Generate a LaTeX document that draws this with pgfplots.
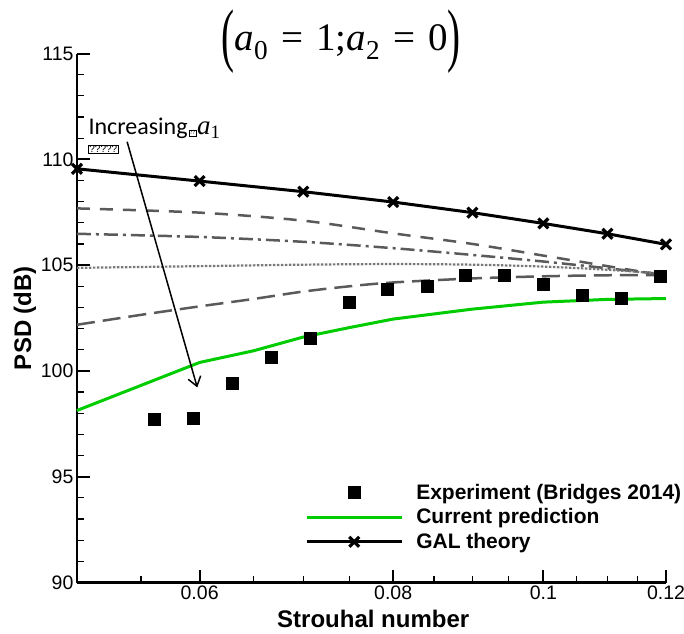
\documentclass[border=0pt]{standalone}
\usepackage{fontspec}
\setmainfont{Liberation Sans}
\newfontfamily\carlito{Carlito}
\newfontfamily\tnr{Liberation Serif}
\usepackage{pgfplots}
\pgfplotsset{compat=1.18}
\usetikzlibrary{arrows.meta}
\definecolor{cpgreen}{RGB}{0,204,0}
\definecolor{dgray}{RGB}{90,90,90}
\definecolor{lgray}{RGB}{120,120,120}
\pgfplotsset{
  mylinelegend/.style={legend image code/.code={\draw[##1,mark repeat=2,mark phase=2] plot coordinates {(0pt,0pt) (47.5pt,0pt) (95pt,0pt)};}},
  mymarklegend/.style={legend image code/.code={\draw[##1] plot coordinates {(47.5pt,0pt)};}},
}
\newcommand\bigparen[1]{\raisebox{-0.215em}{\scalebox{1}[1.8]{#1}}}
\begin{document}
\begin{tikzpicture}
\begin{axis}[
  scale only axis, width=589pt, height=529pt,
  xmode=log, xmin=0.05, xmax=0.12, ymin=90, ymax=115,
  axis x line*=bottom, axis y line*=left,
  axis line style={line width=2.2pt,-},
  xtick={0.06,0.08,0.1,0.12}, xticklabels={0.06,0.08,0.1,0.12},
  minor xtick={0.055,0.065,0.07,0.075,0.085,0.09,0.095,0.105,0.11,0.115},
  ytick={90,95,100,105,110,115}, yticklabels={90,95,100,105,110,115},
  minor ytick={91,92,93,94,96,97,98,99,101,102,103,104,106,107,108,109,111,112,113,114},
  tick align=inside, major tick length=13pt, minor tick length=7pt,
  major tick style={line width=2pt,black}, minor tick style={line width=1.2pt,black},
  ticklabel style={font=\fontsize{19.5}{22}\selectfont},
  xlabel={Strouhal number}, ylabel={PSD (dB)},
  label style={font=\fontsize{24}{28}\selectfont\bfseries},
  xlabel style={at={(axis description cs:0.503,-0.068)}, anchor=center},
  ylabel style={at={(axis description cs:-0.0883,0.5)}, anchor=center},
  legend style={draw=none, fill=none, inner sep=0pt, outer sep=0pt,
    at={(axis description cs:0.3876,0.1881)}, anchor=north west,
    font=\fontsize{21}{24}\selectfont\bfseries, row sep=6pt, nodes={inner sep=1pt},
    /tikz/every odd column/.append style={column sep=12pt}},
  legend cell align=left,
  mylinelegend,
  clip=false,
]
\addplot[only marks, mark=square*, mark size=6pt, black, mymarklegend] coordinates {
(0.0561,97.73)(0.0594,97.77)(0.0630,99.40)(0.0667,100.66)(0.0707,101.53)(0.0749,103.23)
(0.0793,103.86)(0.0841,103.99)(0.0891,104.50)(0.0944,104.53)(0.1000,104.10)(0.1059,103.58)
(0.1122,103.42)(0.1189,104.46)};
\addlegendentry{Experiment (Bridges 2014)}
\addplot[cpgreen, line width=3pt] coordinates {
(0.05,98.13)(0.06,100.4)(0.065,100.95)(0.07,101.6)(0.075,102.05)(0.08,102.45)(0.09,102.92)(0.1,103.25)(0.11,103.38)(0.12,103.42)};
\addlegendentry{Current prediction}
\addplot[black, line width=3pt, mark=x, mark size=7pt, mark options={line width=3.2pt}] coordinates {
(0.05,109.55)(0.06,108.97)(0.07,108.47)(0.08,107.98)(0.09,107.48)(0.1,106.97)(0.11,106.48)(0.12,105.98)};
\addlegendentry{GAL theory}
% family of curves for increasing a1
\addplot[forget plot, dgray, line width=2.5pt, dash pattern=on 13pt off 10pt, smooth] coordinates {
(0.05,107.68)(0.06,107.48)(0.07,107.1)(0.08,106.5)(0.09,106.0)(0.1,105.45)(0.11,104.95)(0.12,104.5)};
\addplot[forget plot, dgray, line width=2.5pt, dash pattern=on 14pt off 5pt on 3pt off 5pt, smooth] coordinates {
(0.05,106.48)(0.06,106.33)(0.07,106.1)(0.08,105.8)(0.09,105.48)(0.1,105.17)(0.11,104.85)(0.12,104.55)};
\addplot[forget plot, lgray, line width=2.2pt, dash pattern=on 2.5pt off 1.5pt, smooth] coordinates {
(0.05,104.87)(0.06,104.95)(0.07,105.02)(0.08,105.05)(0.09,105.02)(0.1,104.93)(0.11,104.78)(0.12,104.58)};
\addplot[forget plot, dgray, line width=2.5pt, dash pattern=on 18pt off 8pt, smooth] coordinates {
(0.05,102.18)(0.055,102.65)(0.06,103.05)(0.065,103.4)(0.07,103.75)(0.075,104.0)(0.08,104.18)(0.09,104.37)(0.1,104.47)(0.11,104.52)(0.12,104.52)};
% annotation
\draw[line width=1.5pt, -{Straight Barb[length=9pt,width=13pt,line width=1.5pt]}] (axis cs:0.05387,110.83) -- (axis cs:0.05979,99.22);
\node[anchor=base west, inner sep=0, font=\carlito\fontsize{24}{26}\selectfont] at (axis cs:0.05085,111.15)
  {Increasing\kern1pt{\setlength\fboxsep{0.6pt}\setlength\fboxrule{0.6pt}\fbox{\fontsize{6}{6}\selectfont ??}}\kern0.5pt{\tnr\fontsize{27}{28}\selectfont\itshape a\textsubscript{\upshape 1}}};
\node[draw, line width=0.6pt, inner sep=0.8pt, anchor=north west, font=\fontsize{10}{10}\selectfont] at (axis cs:0.05085,110.68) {?????};
\node[font=\tnr\fontsize{39}{44}\selectfont] at (axis description cs:0.4487,1.022)
  {\bigparen{(}\textit{a}\textsubscript{0}\,\,=\,\,1;\textit{a}\textsubscript{2}\,\,=\,\,0\bigparen{)}};
\end{axis}
\pgfresetboundingbox
\path[use as bounding box] (-77pt,-50.5pt) rectangle (607pt,582.5pt);
\end{tikzpicture}
\end{document}
